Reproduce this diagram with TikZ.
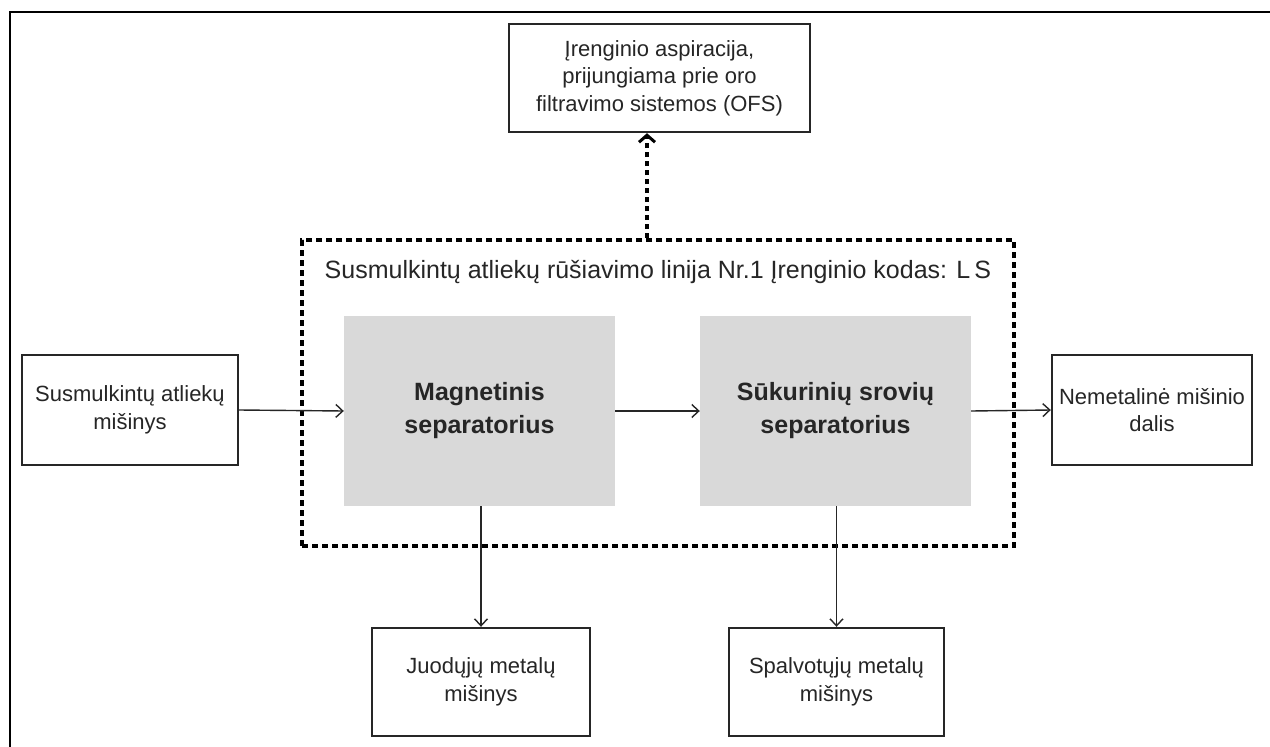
\documentclass[tikz,border=0pt]{standalone}
\usepackage{fontspec}
\setmainfont{Liberation Sans}
\usetikzlibrary{arrows.meta}
\definecolor{sepfill}{HTML}{D9D9D9}
\definecolor{ink}{HTML}{262626}
\begin{document}
\begin{tikzpicture}[x=1pt,y=-1pt,
  font=\fontsize{22}{27.5}\selectfont,
  every node/.style={text=ink},
  box/.style={draw=ink,line width=2.4pt,align=center,inner sep=0pt},
  sep/.style={fill=sepfill,align=center,inner sep=0pt,font=\fontsize{25}{33}\selectfont\bfseries},
  line box/.style={draw=black,line width=3.6pt,dash pattern=on 6pt off 4pt,inner sep=0pt},
  flow/.style={draw=ink,line width=1.4pt,-{Straight Barb[length=7pt,width=13pt]}},
  aspir/.style={draw=black,line width=3.6pt,dash pattern=on 5pt off 4pt,
    -{Straight Barb[length=7pt,width=16pt,line width=3pt]}}]
\useasboundingbox (0,0) rectangle (1270,747);
\fill[white] (0,0) rectangle (1270,747);
% page frame (top and left edges)
\draw[line width=2.6pt,black] (10,747) -- (10,12) -- (1270,12);

% sorting line container
\node[line box,minimum width=712pt,minimum height=306pt] (line) at (658,393) {};
\node[font=\fontsize{25}{30}\selectfont] (title) at (658,272) {Susmulkintų atliekų rūšiavimo linija Nr.1 Įrenginio kodas: L\,S};

% separators
\node[sep,minimum width=271pt,minimum height=190pt] (mag) at (479.5,411) {Magnetinis\\separatorius};
\node[sep,minimum width=271pt,minimum height=190pt] (suk) at (835.5,411) {Sūkurinių srovių\\separatorius};

% inputs and outputs
\node[box,minimum width=216pt,minimum height=110pt] (in) at (130,410) {Susmulkintų atliekų\\mišinys};
\node[box,minimum width=200pt,minimum height=110pt] (out) at (1152,410) {Nemetalinė mišinio\\dalis};
\node[box,minimum width=218pt,minimum height=108pt] (jm) at (481,682) {Juodųjų metalų\\mišinys};
\node[box,minimum width=215pt,minimum height=108pt] (sm) at (836.5,682) {Spalvotųjų metalų\\mišinys};
\node[box,minimum width=301pt,minimum height=108pt] (ofs) at (659.5,78) {Įrenginio aspiracija,\\prijungiama prie oro\\filtravimo sistemos (OFS)};

% connectors
\coordinate (asp) at (647,0);
\draw[flow] (in.east) -- (mag.west);
\draw[flow] (mag.east) -- (suk.west);
\draw[flow] (suk.east) -- (out.west);
\draw[flow] (mag.south -| jm.north) -- (jm.north);
\draw[flow] (suk.south -| sm.north) -- (sm.north);
\draw[aspir] (line.north -| asp) -- (ofs.south -| asp);
\end{tikzpicture}
\end{document}
